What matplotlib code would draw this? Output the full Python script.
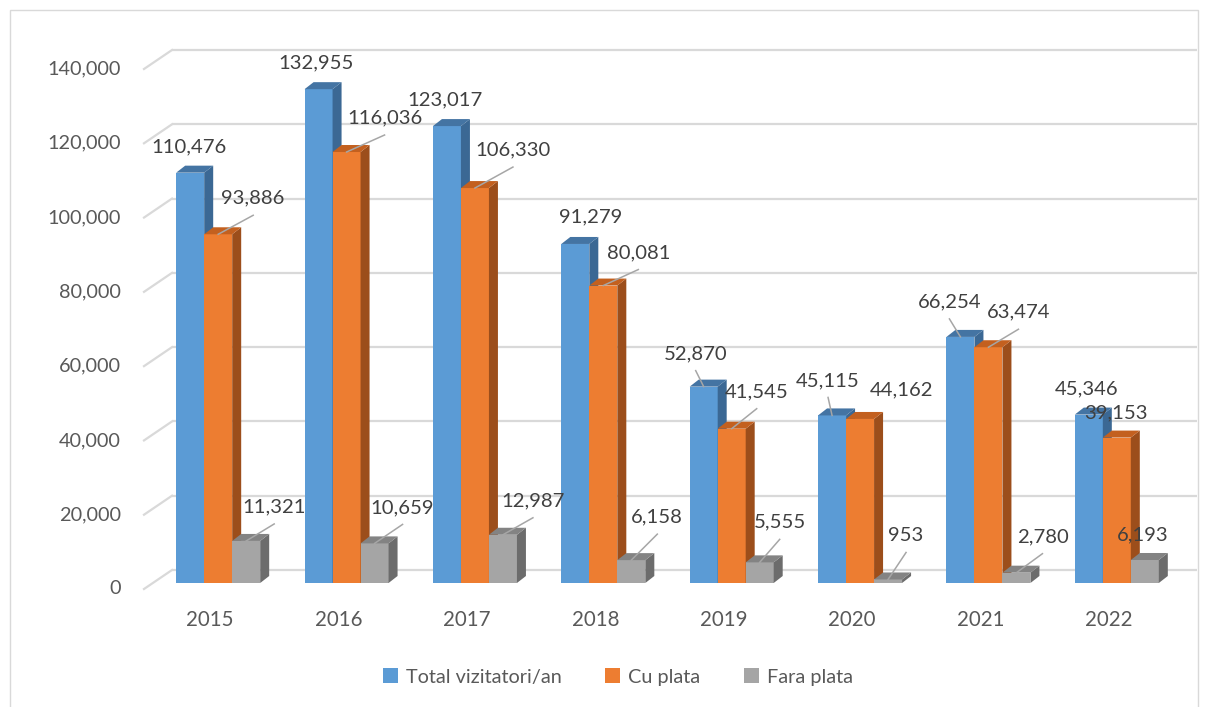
import matplotlib
matplotlib.use("Agg")
import matplotlib.pyplot as plt
from matplotlib.patches import Polygon, Rectangle

# ---------------- data ----------------
years = ["2015", "2016", "2017", "2018", "2019", "2020", "2021", "2022"]
total = [110476, 132955, 123017, 91279, 52870, 45115, 66254, 45346]
cu_plata = [93886, 116036, 106330, 80081, 41545, 44162, 63474, 39153]
fara_plata = [11321, 10659, 12987, 6158, 5555, 953, 2780, 6193]
series_names = ["Total vizitatori/an", "Cu plata", "Fara plata"]
y_ticks = [0, 20000, 40000, 60000, 80000, 100000, 120000, 140000]

# label placement (pixels: dx right, dy up, leader line?)
label_pos = [
    [(-1, 26, False), (-2, 26, False), (-2, 26, False), (15, 27, False),
     (-8, 33, True), (-4, 35, True), (-11, 35, True), (-2, 26, False)],
    [(35, 36, True), (38, 34, True), (38, 38, True), (35, 33, True),
     (25, 37, True), (41, 29, False), (30, 35, True), (-1, 25, False)],
    [(28, 34, True), (28, 36, True), (30, 34, True), (26, 43, True),
     (20, 40, True), (18, 44, True), (26, 36, True), (-2, 25, False)],
]

front_cols = ["#5B9BD5", "#ED7D31", "#A5A5A5"]
side_cols = ["#3B6894", "#9C4E1B", "#6C6C6C"]
top_cols = ["#4474A3", "#C3601F", "#838383"]

FONT = ["Lato", "DejaVu Sans"]
plt.rcParams["font.family"] = FONT

W, H = 1206, 707
fig = plt.figure(figsize=(W / 100, H / 100), dpi=100)
fig.patch.set_facecolor("white")

# outer border
fig.add_artist(Rectangle((10 / W, -0.01), (1198 - 10) / W, (H - 10) / H + 0.01,
                         transform=fig.transFigure, fill=False,
                         edgecolor="#D9D9D9", lw=1.0))

left_px, right_px, base_px, top_px = 146, 1173, 583, 63
ax = fig.add_axes([left_px / W, (H - base_px) / H, (right_px - left_px) / W,
                   (base_px - top_px) / H])
ax.set_xlim(-0.5, 7.5)
ax.set_ylim(0, 140000)
ax.axis("off")

ppx = (right_px - left_px) / 8.0          # pixels per category unit
ppy = (base_px - top_px) / 140000.0      # pixels per value unit

# back wall gridlines + oblique side-wall segments
wall_dx, wall_dy = 26, 13       # back wall offset from bar fronts
floor_dx, floor_dy = -2, -6     # front floor edge offset
x_back0 = -0.5 + wall_dx / ppx
x_back1 = -0.5 + (1197 - left_px) / ppx
x_front = -0.5 + floor_dx / ppx
for v in y_ticks:
    yb = v + wall_dy / ppy
    ax.plot([x_back0, x_back1], [yb, yb], color="#D9D9D9", lw=1.6,
            clip_on=False, zorder=0, solid_capstyle="butt")
    ax.plot([x_front, x_back0], [v + floor_dy / ppy, yb], color="#D9D9D9",
            lw=1.6, clip_on=False, zorder=0)
    ax.text(x_front - 23 / ppx, v + floor_dy / ppy, f"{v:,}", ha="right",
            va="center", fontsize=14.3, color="#595959", clip_on=False)

# bars with pseudo-3D depth
bw_px, off_px = 28, -34
bw = bw_px / ppx
dep_x, dep_y = 9 / ppx, 7 / ppy
series = [total, cu_plata, fara_plata]
for k, vals in enumerate(series):
    for i, v in enumerate(vals):
        x0 = i + (off_px + k * bw_px) / ppx
        x1 = x0 + bw
        z = 2 + k
        ax.add_patch(Rectangle((x0, 0), bw, v, facecolor=front_cols[k],
                               edgecolor="none", zorder=z, clip_on=False))
        ax.add_patch(Polygon([(x1, 0), (x1, v), (x1 + dep_x, v + dep_y),
                              (x1 + dep_x, dep_y)], closed=True,
                             facecolor=side_cols[k], edgecolor="none",
                             zorder=z, clip_on=False))
        ax.add_patch(Polygon([(x0, v), (x1, v), (x1 + dep_x, v + dep_y),
                              (x0 + dep_x, v + dep_y)], closed=True,
                             facecolor=top_cols[k], edgecolor="none",
                             zorder=z, clip_on=False))
        # data label
        dx, dy, leader = label_pos[k][i]
        xc = (x0 + x1) / 2
        lx = xc + dx / ppx
        ly = v + dy / ppy
        if leader:
            ax.plot([xc, lx], [v, ly - 17 / ppy], color="#A6A6A6", lw=1.1,
                    zorder=10, clip_on=False)
        ax.text(lx, ly, f"{v:,}", ha="center", va="center", fontsize=14.6,
                color="#404040", zorder=11, clip_on=False)

# category labels
for i, yr in enumerate(years):
    ax.text(i, -37 / ppy, yr, ha="center", va="center", fontsize=14.8,
            color="#595959", clip_on=False)

# legend
handles = [Rectangle((0, 0), 1, 1, facecolor=c, edgecolor="none")
           for c in front_cols]
fig.legend(handles, series_names, loc="center",
           bbox_to_anchor=(618 / W, 1 - 677 / H), ncol=3, frameon=False,
           fontsize=14.3, handlelength=0.75, handleheight=0.75,
           handletextpad=0.4, columnspacing=2.2, labelcolor="#595959")

fig.savefig("out.png", dpi=100, facecolor="white")
